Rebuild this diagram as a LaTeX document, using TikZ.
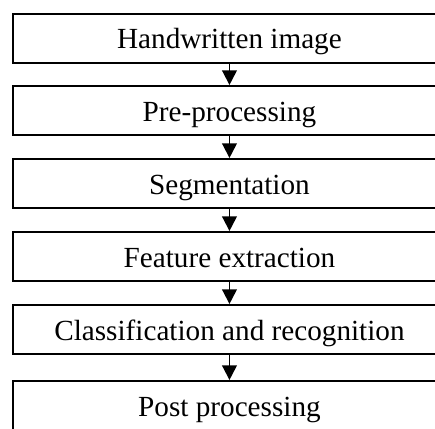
\documentclass[tikz,border=0pt]{standalone}
\usepackage{fontspec}
\setmainfont{Liberation Serif}
\usetikzlibrary{positioning,arrows.meta}
\tikzset{
  stage box/.style={
    rectangle,
    draw=black,
    line width=1.5pt,
    minimum width=324pt,
    minimum height=36.75pt,
    anchor=north,
    align=center,
    text height=15.75pt,
    text depth=0pt,
    inner sep=0pt,
    outer sep=0pt,
    font=\fontsize{21.9pt}{26pt}\selectfont
  },
  stage arrow/.style={
    line width=1.4pt,
    shorten >=0.75pt,
    -{Triangle[width=11pt,length=11pt]}
  }
}

\begin{document}
\begin{tikzpicture}[node distance=18pt]
\useasboundingbox (0,0) rectangle (326.25pt,-321pt);
\node[stage box] (image) at (172.1pt,-10.5pt) {Handwritten image};
\node[stage box, below=17.25pt of image] (prep) {Pre-processing};
\node[stage box, below=of prep] (segm) {Segmentation};
\node[stage box, below=of segm] (feat) {Feature extraction};
\node[stage box, below=of feat] (class) {Classification and recognition};
\node[stage box, below=20.25pt of class] (post) {Post processing};

\draw[stage arrow] (image.south) -- (prep.north);
\draw[stage arrow] (prep.south) -- (segm.north);
\draw[stage arrow] (segm.south) -- (feat.north);
\draw[stage arrow] (feat.south) -- (class.north);
\draw[stage arrow] (class.south) -- (post.north);
\end{tikzpicture}
\end{document}
